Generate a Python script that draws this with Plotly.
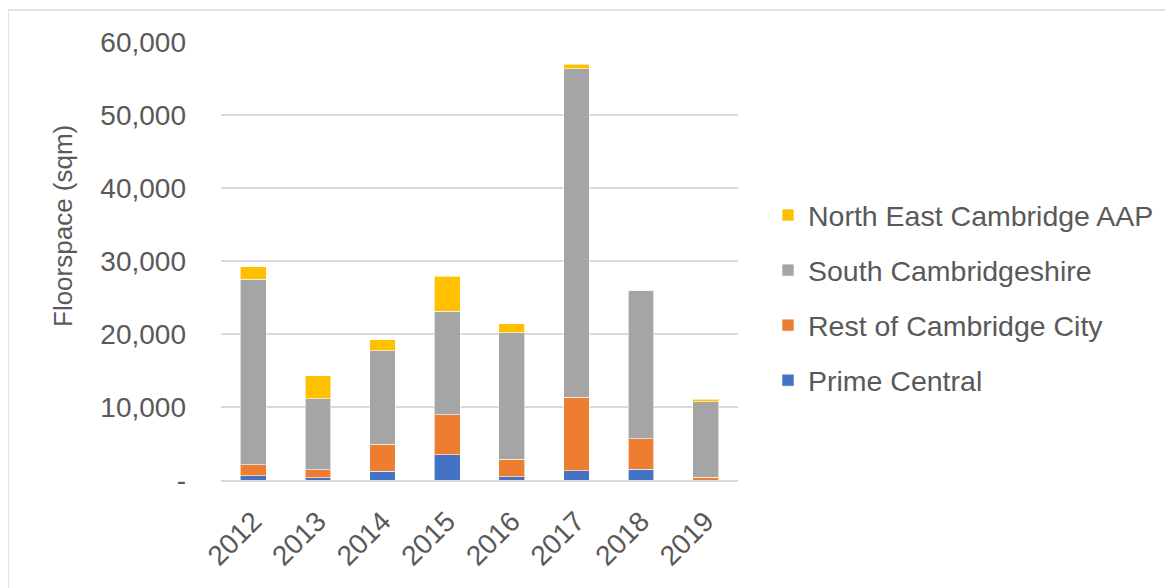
import plotly.graph_objects as go

years = ["2012", "2013", "2014", "2015", "2016", "2017", "2018", "2019"]
prime_central = [600, 300, 1190, 3480, 450, 1280, 1470, 0]
rest_of_city = [1460, 1100, 3710, 5490, 2390, 10030, 4210, 380]
south_cambs = [25440, 9730, 12780, 14150, 17310, 45060, 20330, 10370]
ne_cambridge = [1700, 3160, 1550, 4770, 1240, 600, 0, 330]

y_tickvals = [0, 10000, 20000, 30000, 40000, 50000, 60000]
y_ticktext = ["-", "10,000", "20,000", "30,000", "40,000", "50,000", "60,000"]

series = [
    ("Prime Central", prime_central, "#4472C4"),
    ("Rest of Cambridge City", rest_of_city, "#ED7D31"),
    ("South Cambridgeshire", south_cambs, "#A5A5A5"),
    ("North East Cambridge AAP", ne_cambridge, "#FFC000"),
]

FONT = "Liberation Sans"
TXT = "#595959"

fig = go.Figure()
for i, (name, vals, col) in enumerate(series):
    fig.add_trace(go.Bar(
        x=years, y=vals, name=name, legendgroup=f"g{i}",
        legendrank=100 - i,
        marker=dict(color=col, line=dict(color="rgba(255,255,255,0.6)", width=1)),
    ))

# page has an 8px body margin; figure coordinates are screen - 8
W, H = 1165, 580
L, T = 213, 34
R = W - 730
B = H - 472
pw, ph = W - L - R, H - T - B

def px_x(x):
    return (x - L) / pw

def px_y(y):
    return (H - B - y) / ph

fig.update_layout(
    width=W, height=H,
    margin=dict(l=L, r=R, t=T, b=B, pad=0),
    barmode="stack",
    bargap=0.6,
    paper_bgcolor="white",
    plot_bgcolor="white",
    font=dict(family=FONT, color=TXT, size=28),
    legend=dict(
        x=px_x(760), y=px_y(182), xanchor="left", yanchor="top",
        traceorder="grouped", tracegroupgap=15,
        font=dict(size=28.5, color=TXT, family=FONT),
        itemwidth=30, bgcolor="rgba(0,0,0,0)",
    ),
    xaxis=dict(
        type="category", tickangle=-45, showgrid=False,
        showline=True, linecolor="#D9D9D9", linewidth=1.5,
        ticks="", ticklabelstandoff=12,
        tickfont=dict(size=28, color=TXT, family=FONT),
    ),
    yaxis=dict(
        range=[0, 60000], tickvals=y_tickvals, ticktext=y_ticktext,
        showgrid=True, gridcolor="#D9D9D9", gridwidth=1.5,
        zeroline=False, showline=False, ticks="",
        ticklabelstandoff=34,
        tickfont=dict(size=28, color=TXT, family=FONT),
    ),
    showlegend=True,
    annotations=[dict(
        text="Floorspace (sqm)", textangle=-90,
        xref="paper", yref="paper", x=px_x(55), y=px_y(218),
        xanchor="center", yanchor="middle", showarrow=False,
        font=dict(size=26, color=TXT, family=FONT),
    )],
    shapes=[dict(
        type="rect", xref="paper", yref="paper",
        x0=px_x(0), x1=px_x(1175), y0=px_y(595), y1=px_y(2),
        line=dict(color="#D9D9D9", width=1.5), fillcolor="rgba(0,0,0,0)",
        layer="below",
    )],
)

fig.write_html("out.html")
